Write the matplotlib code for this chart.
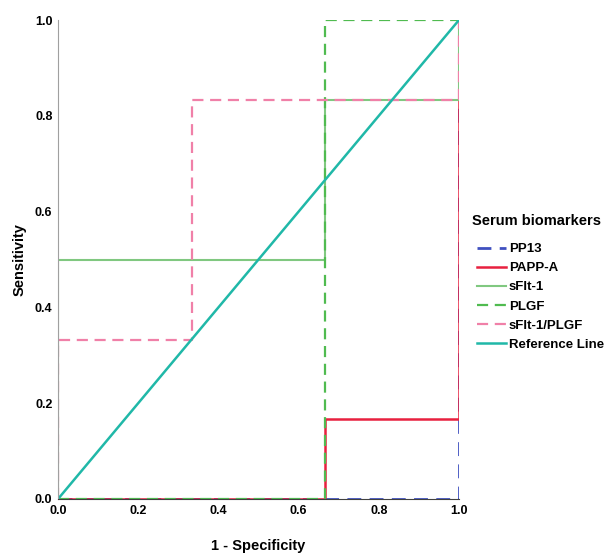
import matplotlib.pyplot as plt
from matplotlib import font_manager

# ROC step curves
pp13_x = [0, 0.667, 1, 1]
pp13_y = [0, 0, 0, 1]
pappa_x = [0, 0.667, 0.667, 1, 1]
pappa_y = [0, 0, 0.167, 0.167, 1]
sflt_x = [0, 0, 0.667, 0.667, 1, 1]
sflt_y = [0, 0.5, 0.5, 0.833, 0.833, 1]
plgf_x = [0, 0.667, 0.667, 1]
plgf_y = [0, 0, 1, 1]
ratio_x = [0, 0, 0.333, 0.333, 1, 1]
ratio_y = [0, 0.333, 0.333, 0.833, 0.833, 1]
ref_x = [0, 1]
ref_y = [0, 1]

ticks = [0.0, 0.2, 0.4, 0.6, 0.8, 1.0]

names = {f.name for f in font_manager.fontManager.ttflist}
if 'Liberation Sans Narrow' in names:
    narrow = 'Liberation Sans Narrow'
elif 'DejaVu Sans Condensed' in names:
    narrow = 'DejaVu Sans Condensed'
else:
    narrow = 'Liberation Sans'

fig = plt.figure(figsize=(6.11, 5.6), dpi=100)
ax = fig.add_axes([0.095, 0.109, 0.656, 0.855])

ax.plot(pp13_x, pp13_y, color='#4050c0', lw=2, ls=(0, (5, 3)), label='PP13')
ax.plot(pappa_x, pappa_y, color='#e8203f', lw=1.8, label='PAPP-A')
ax.plot(sflt_x, sflt_y, color='#80c880', lw=1.5, label='sFlt-1')
ax.plot(plgf_x, plgf_y, color='#50bb50', lw=1.6, ls=(0, (5, 3)), label='PLGF')
ax.plot(ratio_x, ratio_y, color='#f080a8', lw=1.6, ls=(0, (5, 3)), label='sFlt-1/PLGF')
ax.plot(ref_x, ref_y, color='#20b8a8', lw=1.8, label='Reference Line')

ax.set_xlim(0, 1)
ax.set_ylim(0, 1)
ax.set_xticks(ticks)
ax.set_yticks(ticks)
ax.set_xticklabels([f"{t:.1f}" for t in ticks], fontfamily=narrow, fontweight='bold', fontsize=9)
ax.set_yticklabels([f"{t:.1f}" for t in ticks], fontfamily=narrow, fontweight='bold', fontsize=9)
ax.tick_params(length=0, pad=4)
ax.spines['top'].set_visible(False)
ax.spines['right'].set_visible(False)
ax.spines['left'].set_color('#a0a0a0')
ax.spines['bottom'].set_color('#404040')
ax.set_xlabel('1 - Specificity', fontfamily='Liberation Sans', fontweight='bold', fontsize=10.5, labelpad=16)
ax.set_ylabel('Sensitivity', fontfamily='Liberation Sans', fontweight='bold', fontsize=10.5, labelpad=6)

# legend title drawn as its own text so the gap to the entries matches
fig.text(0.773, 1 - 221 / 560, 'Serum biomarkers', fontfamily='Liberation Sans',
         fontweight='bold', fontsize=10.5, ha='left', va='center')
leg = fig.legend(loc='upper left', bbox_to_anchor=(0.781, 1 - 243 / 560), frameon=False,
                 handlelength=2.2, handletextpad=0.2, labelspacing=0.52, borderpad=0,
                 borderaxespad=0, prop={'family': narrow, 'weight': 'bold', 'size': 9.5})

fig.savefig('out.png', dpi=100)
